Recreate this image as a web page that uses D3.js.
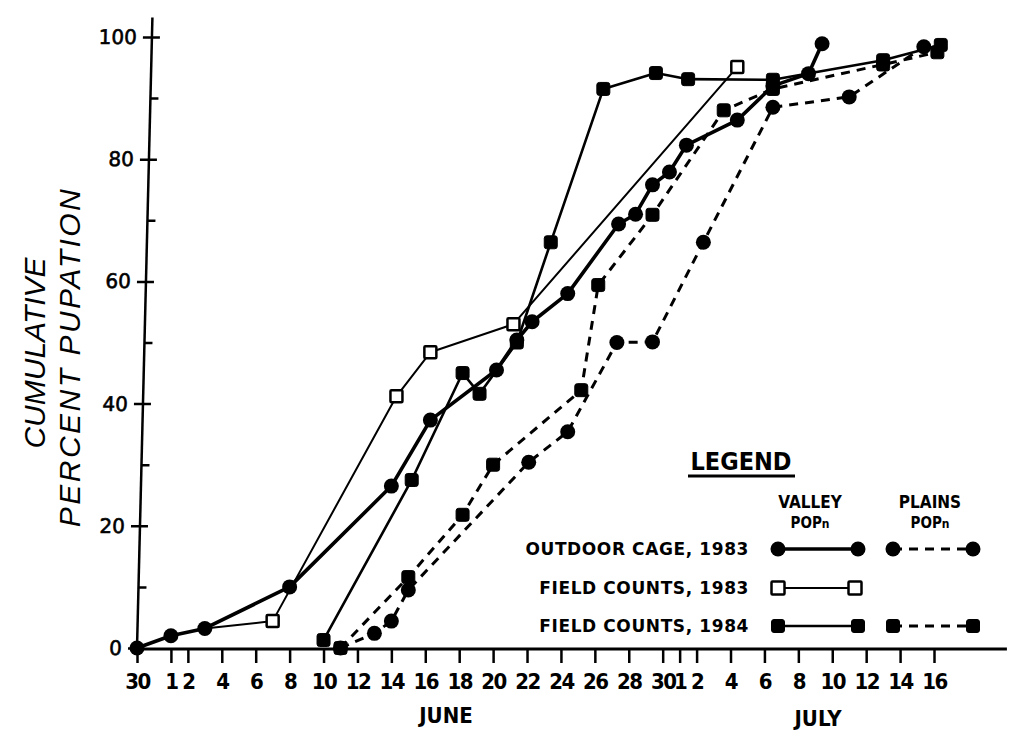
<!DOCTYPE html>
<html>
<head>
<meta charset="utf-8">
<script src="https://cdn.jsdelivr.net/npm/d3@7"></script>
<style>
  html, body { margin: 0; padding: 0; background: #fff; }
  svg { display: block; }
</style>
</head>
<body>
<svg id="chart" width="1013" height="740"></svg>
<script>
// ---- DATA (x = day counted in June: May 30 = -1, June d = d, July d = 30 + d) ----
const tickDays   = [-1, 1, 2, 4, 6, 8, 10, 12, 14, 16, 18, 20, 22, 24, 26, 28, 30, 31, 32, 34, 36, 38, 40, 42, 44, 46];
const tickLabels = ["30","1","2","4","6","8","10","12","14","16","18","20","22","24","26","28","30","1","2","4","6","8","10","12","14","16"];
const yTicks      = [0, 20, 40, 60, 80, 100];
const yMinorTicks = [10, 30, 50, 70, 90];

// Outdoor cage 1983, valley population (solid, circles)
const cageValleyDay = [-1, 1, 3, 8, 14, 16.3, 20.2, 21.4, 22.3, 24.4, 27.4, 28.4, 29.4, 30.4, 31.4, 34.4, 36.5, 38.6, 39.4];
const cageValleyPct = [0, 2, 3.2, 10, 26.5, 37.3, 45.5, 50.4, 53.4, 58, 69.4, 71, 75.8, 77.9, 82.3, 86.4, 92, 94, 98.9];

// Field counts 1983, valley population (thin solid, open squares); first point is where the line leaves the cage curve
const field83Day = [3, 7, 14.3, 16.3, 21.2, 34.4];
const field83Pct = [3.2, 4.4, 41.2, 48.4, 53, 95.1];

// Field counts 1984, valley population (solid, filled squares)
const field84ValleyDay = [10, 15.2, 18.2, 19.2, 21.4, 23.4, 26.5, 29.6, 31.5, 36.5, 43, 46.4];
const field84ValleyPct = [1.3, 27.5, 45, 41.6, 50, 66.4, 91.5, 94.1, 93.1, 93, 96.2, 98.7];

// Outdoor cage 1983, plains population (dashed, circles)
const cagePlainsDay = [11, 13, 14, 15, 22.1, 24.4, 27.3, 29.4, 32.4, 36.5, 41, 45.4];
const cagePlainsPct = [0, 2.4, 4.4, 9.5, 30.4, 35.4, 50, 50.1, 66.4, 88.5, 90.2, 98.4];

// Field counts 1984, plains population (dashed, filled squares)
const field84PlainsDay = [11, 15, 18.2, 20, 25.2, 26.2, 29.4, 33.6, 36.5, 43, 46.2];
const field84PlainsPct = [0, 11.6, 21.8, 30, 42.2, 59.4, 70.9, 88, 91.5, 95.5, 97.5];

const legendRows = ["OUTDOOR CAGE, 1983", "FIELD COUNTS, 1983", "FIELD COUNTS, 1984"];
const legendCols = ["VALLEY", "PLAINS"];

// ---- SCALES ----
const svg = d3.select("#chart");
const x = d3.scaleLinear().domain([-1, 46]).range([137, 934]);
const y = d3.scaleLinear().domain([0, 100]).range([648, 37]);

const ink = "#000";

// ---- AXES ----
// X axis
const xAxis = d3.axisBottom(x)
  .tickValues(tickDays)
  .tickFormat((d, i) => tickLabels[i])
  .tickSizeInner(14).tickSizeOuter(0).tickPadding(10);
const gx = svg.append("g").attr("transform", `translate(0,${y(0) + 1})`).call(xAxis);
gx.select(".domain").remove();
gx.append("line")
  .attr("x1", x(-1)).attr("x2", x(50.3)).attr("y1", 0).attr("y2", 0)
  .attr("stroke", ink).attr("stroke-width", 3);
gx.selectAll(".tick line").attr("stroke", ink).attr("stroke-width", 2.5);
gx.selectAll(".tick text")
  .attr("fill", ink)
  .style("font-family", "'DejaVu Sans Condensed', 'Liberation Sans Narrow', 'DejaVu Sans', sans-serif")
  .style("font-weight", "bold")
  .style("font-size", "22px")
  .attr("letter-spacing", "-1.5");

svg.append("text").text("JUNE")
  .attr("x", 446).attr("y", 723).attr("text-anchor", "middle")
  .style("font-family", "'DejaVu Sans Condensed', 'DejaVu Sans', sans-serif")
  .style("font-weight", "bold").style("font-size", "22px").attr("fill", ink);
svg.append("text").text("JULY")
  .attr("x", 818).attr("y", 726).attr("text-anchor", "middle")
  .style("font-family", "'DejaVu Sans Condensed', 'DejaVu Sans', sans-serif")
  .style("font-weight", "bold").style("font-size", "22px").attr("fill", ink);

// Y axis (slightly tilted as in the scanned original)
const gy = svg.append("g")
  .attr("transform", `translate(${x(-1)},${y(0)}) skewX(-1.4) translate(0,${-y(0)})`);
const yAxisL = d3.axisLeft(y).tickValues(yTicks).tickSizeInner(9).tickSizeOuter(0).tickPadding(6);
gy.call(yAxisL);
gy.select(".domain").remove();
gy.selectAll(".tick line").attr("stroke", ink).attr("stroke-width", 2.5);
gy.selectAll(".tick text")
  .attr("fill", ink)
  .attr("stroke", ink).attr("stroke-width", 0.6)
  .style("font-family", "'DejaVu Sans', sans-serif")
  .style("font-size", "20px");
const yAxisR = d3.axisRight(y).tickValues(yTicks.concat(yMinorTicks).filter(v => v > 0))
  .tickSizeInner(8).tickSizeOuter(0).tickFormat("");
const gyr = gy.append("g").call(yAxisR);
gyr.select(".domain").remove();
gyr.selectAll(".tick line").attr("stroke", ink).attr("stroke-width", 2.5);
gy.append("line")
  .attr("x1", 0).attr("x2", 0).attr("y1", y(0)).attr("y2", y(103.2))
  .attr("stroke", ink).attr("stroke-width", 2.5);

// Y axis title
svg.append("text").text("CUMULATIVE")
  .attr("transform", `translate(45,353) rotate(-90)`)
  .attr("text-anchor", "middle")
  .style("font-family", "'Liberation Sans', Arial, sans-serif")
  .style("font-style", "italic").style("font-size", "30px").attr("fill", ink);
svg.append("text").text("PERCENT PUPATION")
  .attr("transform", `translate(80,357) rotate(-90)`)
  .attr("text-anchor", "middle")
  .attr("letter-spacing", "2.5")
  .style("font-family", "'Liberation Sans', Arial, sans-serif")
  .style("font-style", "italic").style("font-size", "30px").attr("fill", ink);

// ---- SERIES ----
function pts(days, pcts) { return days.map((d, i) => ({ d: d, p: pcts[i] })); }
const line = d3.line().x(v => x(v.d)).y(v => y(v.p));
const plot = svg.append("g");

function drawLine(data, width, dash) {
  plot.append("path").datum(data)
    .attr("d", line).attr("fill", "none").attr("stroke", ink)
    .attr("stroke-width", width).attr("stroke-linejoin", "round")
    .attr("stroke-dasharray", dash || null);
}
function drawCircles(g, data, r) {
  g.selectAll(null).data(data).enter().append("circle")
    .attr("cx", v => x(v.d)).attr("cy", v => y(v.p)).attr("r", r).attr("fill", ink);
}
function drawSquares(g, data, s, open) {
  g.selectAll(null).data(data).enter().append("rect")
    .attr("x", v => x(v.d) - s / 2).attr("y", v => y(v.p) - s / 2)
    .attr("width", s).attr("height", s).attr("rx", open ? 1 : 2.5)
    .attr("fill", open ? "#fff" : ink)
    .attr("stroke", ink).attr("stroke-width", open ? 2.5 : 1);
}

const sCageValley = pts(cageValleyDay, cageValleyPct);
const sField83 = pts(field83Day, field83Pct);
const sField84Valley = pts(field84ValleyDay, field84ValleyPct);
const sCagePlains = pts(cagePlainsDay, cagePlainsPct);
const sField84Plains = pts(field84PlainsDay, field84PlainsPct);

const DASH = "9,7";
drawLine(sCagePlains, 3, DASH);
drawLine(sField84Plains, 3, DASH);
drawLine(sField83, 2);
drawLine(sField84Valley, 2.6);
drawLine(sCageValley, 3.6);

const marks = svg.append("g");
drawSquares(marks, sField84Plains, 13, false);
drawCircles(marks, sCagePlains, 7.5);
drawSquares(marks, sField84Valley, 13, false);
drawSquares(marks, sField83.slice(1), 12, true);
drawCircles(marks, sCageValley, 7.5);

// ---- LEGEND ----
const lg = svg.append("g");
lg.append("text").text("LEGEND")
  .attr("x", 741).attr("y", 470).attr("text-anchor", "middle")
  .style("font-family", "'DejaVu Sans Condensed', 'DejaVu Sans', sans-serif")
  .style("font-weight", "bold")
  .style("font-size", "25px").attr("fill", ink);
lg.append("line").attr("x1", 688).attr("x2", 795).attr("y1", 476).attr("y2", 476)
  .attr("stroke", ink).attr("stroke-width", 3);

const colX = [[778, 858], [893, 973]];
legendCols.forEach((c, i) => {
  const cx = (colX[i][0] + colX[i][1]) / 2 - (i === 0 ? 8 : 3);
  lg.append("text").text(c)
    .attr("x", cx).attr("y", 508).attr("text-anchor", "middle")
    .style("font-family", "'DejaVu Sans Condensed', 'DejaVu Sans', sans-serif")
    .style("font-weight", "bold").style("font-size", "17px").attr("fill", ink);
  const t = lg.append("text").attr("x", cx).attr("y", 528).attr("text-anchor", "middle")
    .style("font-family", "'DejaVu Sans Condensed', 'DejaVu Sans', sans-serif")
    .style("font-weight", "bold").style("font-size", "15px").attr("fill", ink);
  t.append("tspan").text("POP");
  t.append("tspan").text("n").style("font-size", "12px");
});

const rowY = [549, 588, 626];
legendRows.forEach((r, i) => {
  lg.append("text").text(r)
    .attr("x", 749).attr("y", rowY[i] + 6).attr("text-anchor", "end")
    .attr("letter-spacing", "0.6")
    .style("font-family", "'DejaVu Sans', sans-serif")
    .style("font-weight", "bold").style("font-size", "17px").attr("fill", ink);
});
function legLine(x1, x2, yy, w, dash) {
  lg.append("line").attr("x1", x1).attr("x2", x2).attr("y1", yy).attr("y2", yy)
    .attr("stroke", ink).attr("stroke-width", w).attr("stroke-dasharray", dash || null);
}
function legCircle(cx, cy) { lg.append("circle").attr("cx", cx).attr("cy", cy).attr("r", 7.5).attr("fill", ink); }
function legSquare(cx, cy, open) {
  lg.append("rect").attr("x", cx - 6.5).attr("y", cy - 6.5).attr("width", 13).attr("height", 13)
    .attr("rx", open ? 1 : 2.5).attr("fill", open ? "#fff" : ink).attr("stroke", ink)
    .attr("stroke-width", open ? 2.5 : 1);
}
// Outdoor cage 1983
legLine(colX[0][0], colX[0][1], rowY[0], 3.6);
legCircle(colX[0][0], rowY[0]); legCircle(colX[0][1], rowY[0]);
legLine(colX[1][0], colX[1][1], rowY[0], 3, DASH);
legCircle(colX[1][0], rowY[0]); legCircle(colX[1][1], rowY[0]);
// Field counts 1983
legLine(colX[0][0], colX[0][1] - 3, rowY[1], 2);
legSquare(colX[0][0], rowY[1], true); legSquare(colX[0][1] - 3, rowY[1], true);
// Field counts 1984
legLine(colX[0][0], colX[0][1], rowY[2], 2.6);
legSquare(colX[0][0], rowY[2], false); legSquare(colX[0][1], rowY[2], false);
legLine(colX[1][0], colX[1][1], rowY[2], 3, DASH);
legSquare(colX[1][0], rowY[2], false); legSquare(colX[1][1], rowY[2], false);
</script>
</body>
</html>
